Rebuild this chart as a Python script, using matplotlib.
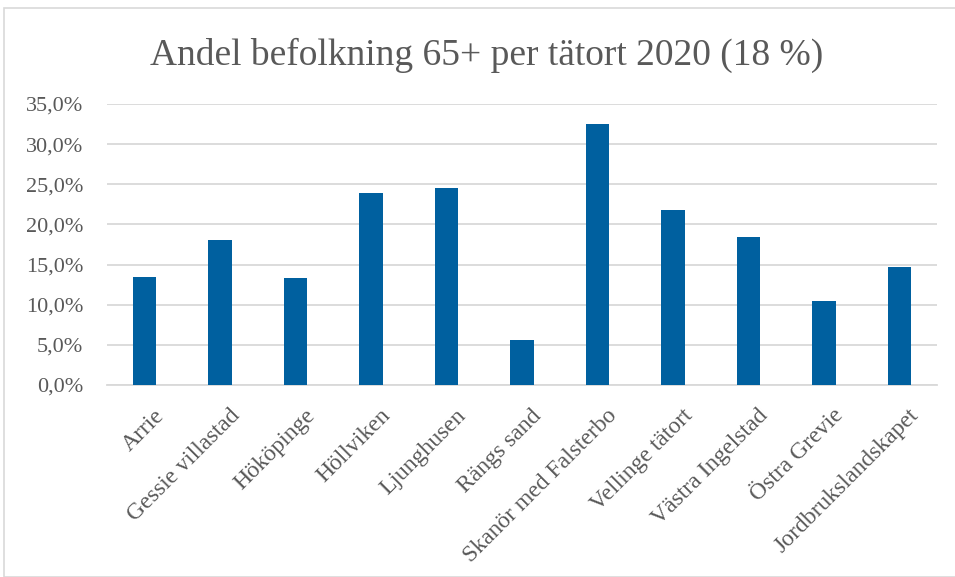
import matplotlib
matplotlib.use('Agg')
import matplotlib.pyplot as plt
import matplotlib.transforms as mtransforms
from matplotlib.ticker import FuncFormatter
from matplotlib.patches import Rectangle

orter = ['Arrie', 'Gessie villastad', 'Hököpinge', 'Höllviken', 'Ljunghusen',
         'Rängs sand', 'Skanör med Falsterbo', 'Vellinge tätort',
         'Västra Ingelstad', 'Östra Grevie', 'Jordbrukslandskapet']
andel = [13.4, 18.0, 13.3, 23.9, 24.5, 5.6, 32.5, 21.8, 18.4, 10.5, 14.7]
yticks = [0, 5, 10, 15, 20, 25, 30, 35]

plt.rcParams['font.family'] = ['Liberation Serif', 'DejaVu Serif']

fig = plt.figure(figsize=(9.55, 5.77), dpi=100)
fig.patches.append(Rectangle((4 / 955, 0), 1.2, (577 - 8) / 577, transform=fig.transFigure,
                             fill=False, edgecolor='#d9d9d9', linewidth=1.2))
ax = fig.add_axes([107 / 955, 1 - 385 / 577, 830 / 955, 281 / 577])

ax.bar(range(len(orter)), andel, width=0.31, color='#00609f', zorder=3)
ax.set_xlim(-0.5, len(orter) - 0.5)
ax.set_ylim(0, 35)
ax.set_yticks(yticks)
ax.yaxis.set_major_formatter(FuncFormatter(lambda v, p: f'{v:.1f}%'.replace('.', ',')))
ax.grid(axis='y', color='#d9d9d9', linewidth=1.3, zorder=0)
for s in ['top', 'right', 'left']:
    ax.spines[s].set_visible(False)
ax.spines['bottom'].set_color('#d9d9d9')
ax.spines['bottom'].set_linewidth(1.3)
ax.tick_params(axis='both', length=0, labelcolor='#595959')
ax.tick_params(axis='y', labelsize=16, pad=17)
ax.tick_params(axis='x', labelsize=17, pad=8)
ax.set_xticks(range(len(orter)))
ax.set_xticklabels(orter, rotation=45, ha='right', rotation_mode='anchor')

# skjut etiketterna lite åt höger och nedåt
offset = mtransforms.ScaledTranslation(0.09, -0.09, fig.dpi_scale_trans)
for lbl in ax.get_xticklabels():
    lbl.set_transform(lbl.get_transform() + offset)

fig.text(487 / 955, 1 - 55 / 577, 'Andel befolkning 65+ per tätort 2020 (18 %)', ha='center', va='center',
         fontsize=27, color='#595959')

fig.savefig('out.png', dpi=100)
